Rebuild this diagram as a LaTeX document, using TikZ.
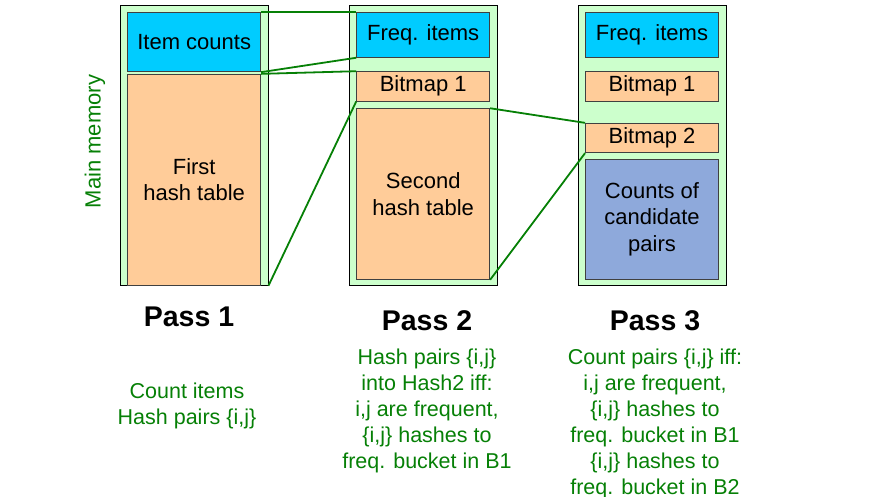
\documentclass[tikz,border=0pt]{standalone}
\usepackage{fontspec}
\setmainfont{Liberation Sans}
\definecolor{memgreen}{HTML}{CCFFCC}
\definecolor{cyanbox}{HTML}{00CCFF}
\definecolor{peach}{HTML}{FFCC99}
\definecolor{pairblue}{HTML}{8EA9DB}
\definecolor{linegreen}{HTML}{068006}
\definecolor{boxedge}{HTML}{404040}
\begin{document}
\begin{tikzpicture}[x=1pt,y=-1pt,
  mem/.style={draw=black,line width=0.9pt,fill=memgreen,minimum width=148pt,minimum height=280pt,inner sep=0pt},
  part/.style={draw=boxedge,line width=0.9pt,minimum width=133pt,inner sep=0pt,align=center,
    font=\fontsize{22}{26.5}\selectfont,text=black},
  link/.style={draw=linegreen,line width=1.8pt},
  pass/.style={font=\fontsize{28.5}{32}\selectfont\bfseries},
  note/.style={text=linegreen,align=center,font=\fontsize{21.5}{26}\selectfont}]
\useasboundingbox (0,0) rectangle (877,496);
% memories
\node[mem] (m1) at (194,145.3) {};
\node[mem] (m2) at (423,145.3) {};
\node[mem] (m3) at (652,145.3) {};
% pass 1
\node[part,fill=cyanbox,minimum height=59pt] (ic) at (194.2,42.2) {Item counts};
\node[part,fill=peach,minimum height=211pt] (h1) at (194.2,179.8) {First\\hash table};
% pass 2
\node[part,fill=cyanbox,minimum height=44.6pt] (f2) at (423.2,35) {Freq. items};
\node[part,fill=peach,minimum height=29.3pt] (b21) at (423.2,86.3) {Bitmap 1};
\node[part,fill=peach,minimum height=170.6pt] (h2) at (423.2,194) {Second\\hash table};
% pass 3
\node[part,fill=cyanbox,minimum height=44.6pt] (f3) at (652,35) {Freq. items};
\node[part,fill=peach,minimum height=29.3pt] (b31) at (652,86.3) {Bitmap 1};
\node[part,fill=peach,minimum height=29.4pt] (b32) at (652,138) {Bitmap 2};
\node[part,fill=pairblue,minimum height=120pt] (cp) at (652,219.3) {Counts of\\candidate\\pairs};
% links
\draw[link] (ic.north east) -- (f2.north west);
\draw[link] (ic.south east) -- (f2.south west);
\draw[link] (h1.north east) -- (b21.north west);
\draw[link] (m1.south east) -- (b21.south west);
\draw[link] (h2.north east) -- (b32.north west);
\draw[link] (h2.south east) -- (b32.south west);
% labels
\node[rotate=90,text=linegreen,font=\fontsize{22}{26}\selectfont] (mm) at (95,141.5) {Main memory};
\node[pass] (p1) at (189,317) {Pass 1};
\node[pass] (p2) at (427,321) {Pass 2};
\node[pass] (p3) at (655,321) {Pass 3};
\node[note,anchor=north] (n1) at (187,379) {Count items\\Hash pairs \{i,j\}};
\node[note,anchor=north] (n2) at (427,345) {Hash pairs \{i,j\}\\into Hash2 iff:\\i,j are frequent,\\\{i,j\} hashes to\\freq. bucket in B1};
\node[note,anchor=north] (n3) at (655,345) {Count pairs \{i,j\} iff:\\i,j are frequent,\\\{i,j\} hashes to\\freq. bucket in B1\\\{i,j\} hashes to\\freq. bucket in B2};
\end{tikzpicture}
\end{document}
